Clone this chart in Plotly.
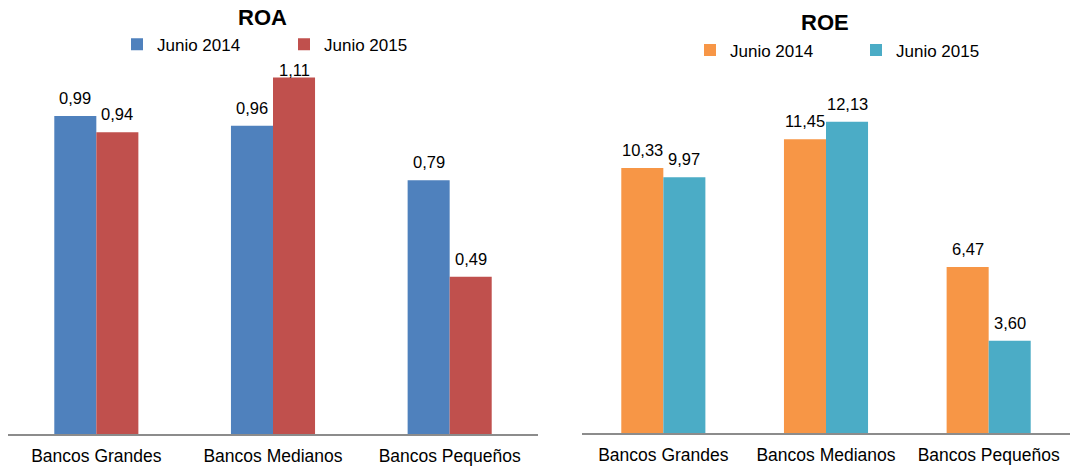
import plotly.graph_objects as go

categories = ["Bancos Grandes", "Bancos Medianos", "Bancos Pequeños"]
roa_2014 = [0.99, 0.96, 0.79]
roa_2015 = [0.94, 1.11, 0.49]
roe_2014 = [10.33, 11.45, 6.47]
roe_2015 = [9.97, 12.13, 3.60]
series_names = ["Junio 2014", "Junio 2015"]

W, H = 1078, 466
FONT = "Liberation Sans, Arial, sans-serif"

def fmt(v):
    return f"{v:.2f}".replace(".", ",")

wL = 42 / 176.5
wR = 42 / 162.5

# y-axis geometry (pixels from top): baseline, top, range max
geomL = dict(base=438, top=49, ymax=1.2)
geomR = dict(base=437, top=74.4, ymax=14)

fig = go.Figure()
fig.add_trace(go.Bar(x=categories, y=roa_2014, name=series_names[0], marker_color="#4F81BD",
                     width=wL, offset=-wL, xaxis="x", yaxis="y", legend="legend", marker_line_width=0))
fig.add_trace(go.Bar(x=categories, y=roa_2015, name=series_names[1], marker_color="#C0504D",
                     width=wL, offset=0, xaxis="x", yaxis="y", legend="legend", marker_line_width=0))
fig.add_trace(go.Bar(x=categories, y=roe_2014, name=series_names[0], marker_color="#F79646",
                     width=wR, offset=-wR, xaxis="x2", yaxis="y2", legend="legend2", marker_line_width=0))
fig.add_trace(go.Bar(x=categories, y=roe_2015, name=series_names[1], marker_color="#4BACC6",
                     width=wR, offset=0, xaxis="x2", yaxis="y2", legend="legend2", marker_line_width=0))

annotations = []
for xa, ya, s1, s2, g in [("x", "y", roa_2014, roa_2015, geomL), ("x2", "y2", roe_2014, roe_2015, geomR)]:
    ppu = (g["base"] - g["top"]) / g["ymax"]
    for c, v1, v2 in zip(categories, s1, s2):
        for v, dx in [(v1, -21), (v2, 21)]:
            bar_top = g["base"] - v * ppu
            shift = min(18, bar_top - (g["top"] + 22))
            annotations.append(dict(x=c, y=v, xref=xa, yref=ya, text=fmt(v), showarrow=False,
                                    xshift=dx, yshift=shift, yanchor="middle",
                                    font=dict(size=16.5, color="#000", family=FONT)))

annotations.append(dict(x=262 / W, y=1 - 18 / H, xref="paper", yref="paper", text="<b>ROA</b>",
                        showarrow=False, xanchor="center", yanchor="middle",
                        font=dict(size=22, color="#000", family=FONT)))
annotations.append(dict(x=825 / W, y=1 - 23 / H, xref="paper", yref="paper", text="<b>ROE</b>",
                        showarrow=False, xanchor="center", yanchor="middle",
                        font=dict(size=22, color="#000", family=FONT)))

axis_common = dict(showgrid=False, zeroline=False, showline=True, linecolor="#8C8C8C", linewidth=1.5,
                   ticks="outside", ticklen=5, tickcolor="rgba(0,0,0,0)",
                   tickfont=dict(size=17.5, color="#000", family=FONT), fixedrange=True)
yaxis_common = dict(showgrid=False, zeroline=False, showline=False, showticklabels=False, fixedrange=True)

fig.update_layout(
    width=W, height=H,
    margin=dict(l=0, r=0, t=0, b=0),
    paper_bgcolor="white", plot_bgcolor="white",
    barmode="overlay",
    font=dict(family=FONT, color="#000"),
    xaxis=dict(domain=[8 / W, 538 / W], anchor="y", **axis_common),
    yaxis=dict(domain=[(H - geomL["base"]) / H, (H - geomL["top"]) / H], range=[0, geomL["ymax"]],
               anchor="x", **yaxis_common),
    xaxis2=dict(domain=[582 / W, 1070 / W], anchor="y2", **axis_common),
    yaxis2=dict(domain=[(H - geomR["base"]) / H, (H - geomR["top"]) / H], range=[0, geomR["ymax"]],
                anchor="x2", **yaxis_common),
    legend=dict(orientation="h", x=117 / W, y=1 - 45 / H, xanchor="left", yanchor="middle",
                font=dict(size=17, color="#000", family=FONT), entrywidth=122,
                bgcolor="rgba(0,0,0,0)", itemclick=False),
    legend2=dict(orientation="h", x=690 / W, y=1 - 51 / H, xanchor="left", yanchor="middle",
                 font=dict(size=17, color="#000", family=FONT), entrywidth=121,
                 bgcolor="rgba(0,0,0,0)", itemclick=False),
    annotations=annotations,
    showlegend=True,
)

fig.write_html("out.html")
